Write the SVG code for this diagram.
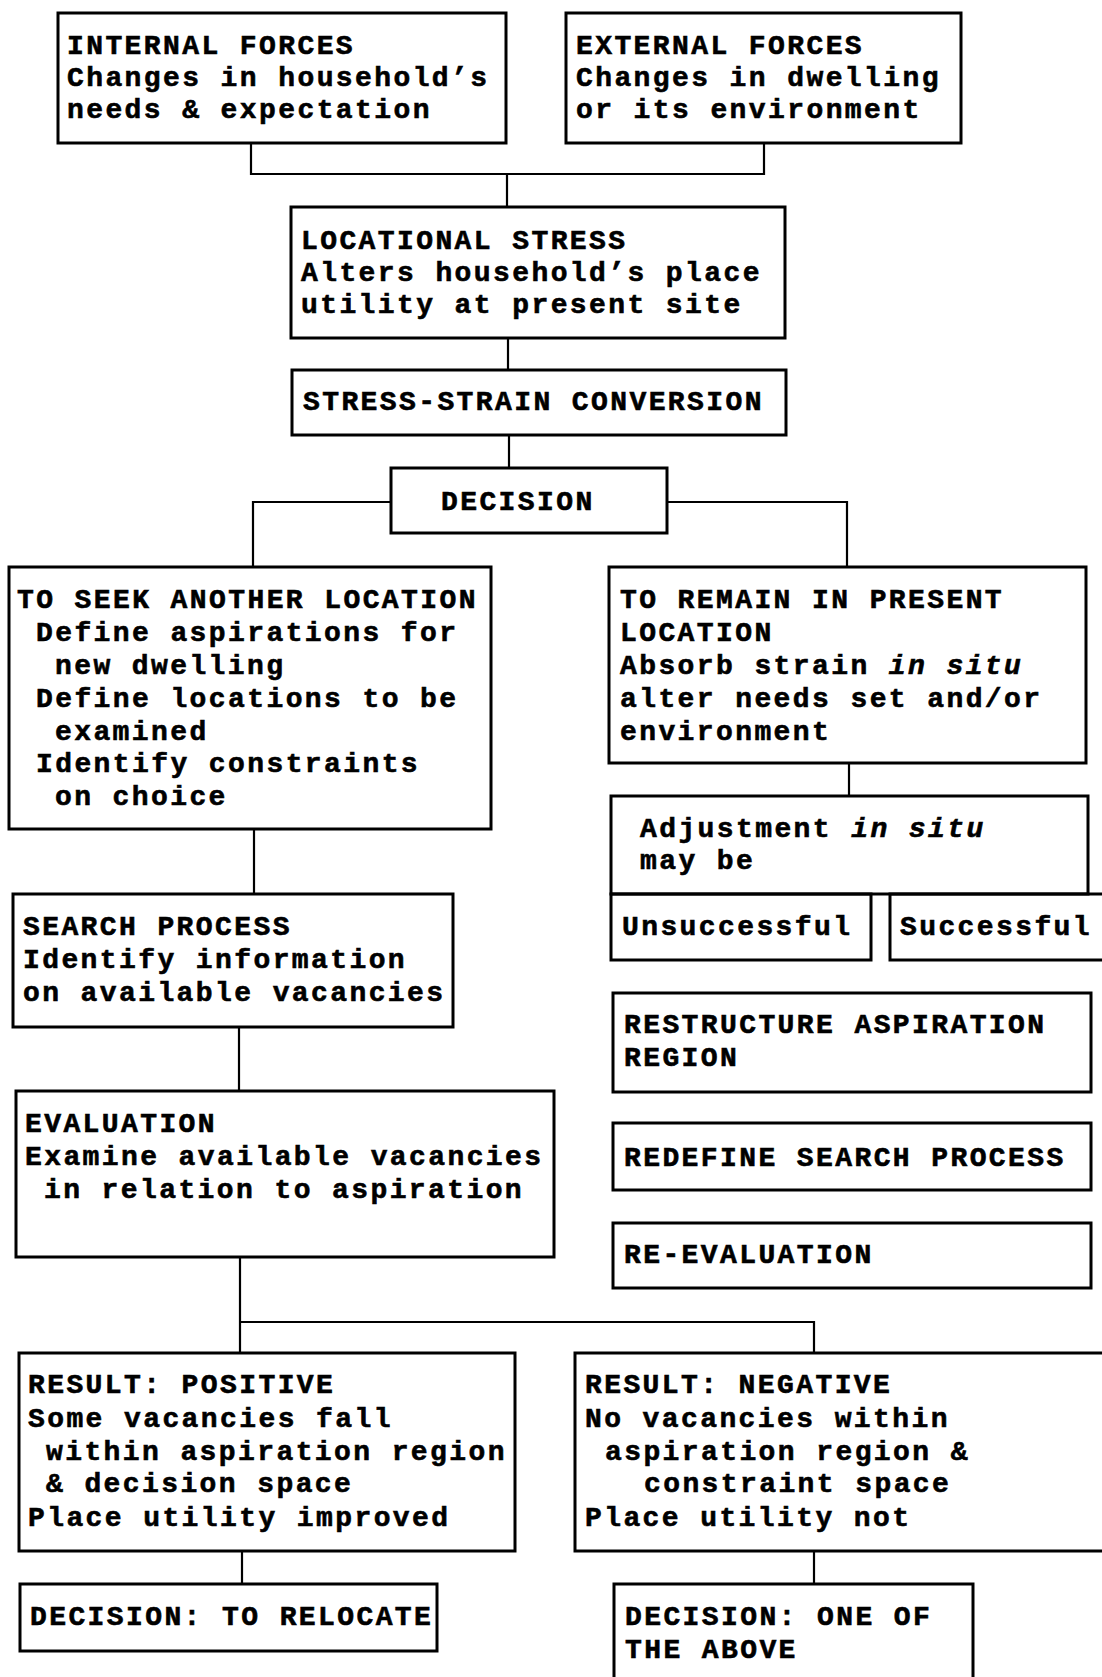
<svg xmlns="http://www.w3.org/2000/svg" width="1102" height="1677" viewBox="0 0 1102 1677">
  <style>
    .box { fill: none; stroke: #000; stroke-width: 3; }
    .wire { fill: none; stroke: #000; stroke-width: 2.2; }
    text { font-family: "Liberation Mono", "Courier New", monospace; font-weight: bold; font-size: 28px; letter-spacing: 2.4px; fill: #000; stroke: #000; stroke-width: 0.6px; }
    .it { font-style: italic; }
  </style>
  <rect x="0" y="0" width="1102" height="1677" fill="#fff"/>

  <!-- connectors -->
  <g id="connectors">
    <path class="wire" d="M251 143 V174 H764 V143 M507 174 V207"/>
    <path class="wire" d="M508 338 V370"/>
    <path class="wire" d="M509 435 V468"/>
    <path class="wire" d="M391 502 H253 V567 M667 502 H847 V567"/>
    <path class="wire" d="M849 763 V796"/>
    <path class="wire" d="M254 829 V894"/>
    <path class="wire" d="M239 1027 V1091"/>
    <path class="wire" d="M240 1257 V1353 M240 1322 H814 V1353"/>
    <path class="wire" d="M242 1551 V1584"/>
    <path class="wire" d="M814 1551 V1584"/>
  </g>

  <g id="internal-forces">
    <rect class="box" x="58" y="13" width="448" height="130"/>
    <text x="67" y="54">INTERNAL FORCES</text>
    <text x="67" y="86">Changes in household’s</text>
    <text x="67" y="118">needs &amp; expectation</text>
  </g>

  <g id="external-forces">
    <rect class="box" x="566" y="13" width="395" height="130"/>
    <text x="576" y="54">EXTERNAL FORCES</text>
    <text x="576" y="86">Changes in dwelling</text>
    <text x="576" y="118">or its environment</text>
  </g>

  <g id="locational-stress">
    <rect class="box" x="291" y="207" width="494" height="131"/>
    <text x="301" y="249">LOCATIONAL STRESS</text>
    <text x="301" y="281">Alters household’s place</text>
    <text x="301" y="313">utility at present site</text>
  </g>

  <g id="stress-strain">
    <rect class="box" x="292" y="370" width="494" height="65"/>
    <text x="303" y="410">STRESS-STRAIN CONVERSION</text>
  </g>

  <g id="decision">
    <rect class="box" x="391" y="468" width="276" height="65"/>
    <text x="441" y="510">DECISION</text>
  </g>

  <g id="seek-location">
    <rect class="box" x="9" y="567" width="482" height="262"/>
    <text x="17" y="608">TO SEEK ANOTHER LOCATION</text>
    <text x="36" y="641">Define aspirations for</text>
    <text x="55" y="674">new dwelling</text>
    <text x="36" y="707">Define locations to be</text>
    <text x="55" y="740">examined</text>
    <text x="36" y="772">Identify constraints</text>
    <text x="55" y="805">on choice</text>
  </g>

  <g id="remain-location">
    <rect class="box" x="609" y="567" width="477" height="196"/>
    <text x="620" y="608">TO REMAIN IN PRESENT</text>
    <text x="620" y="641">LOCATION</text>
    <text x="620" y="674">Absorb strain <tspan class="it">in situ</tspan></text>
    <text x="620" y="707">alter needs set and/or</text>
    <text x="620" y="740">environment</text>
  </g>

  <g id="adjustment">
    <rect class="box" x="611" y="796" width="477" height="98"/>
    <text x="640" y="837">Adjustment <tspan class="it">in situ</tspan></text>
    <text x="640" y="869">may be</text>
  </g>

  <g id="unsuccessful">
    <rect class="box" x="611" y="894" width="260" height="66"/>
    <text x="622" y="935">Unsuccessful</text>
  </g>

  <g id="successful">
    <rect class="box" x="890" y="894" width="230" height="66"/>
    <text x="900" y="935">Successful</text>
  </g>

  <g id="search-process">
    <rect class="box" x="13" y="894" width="440" height="133"/>
    <text x="23" y="935">SEARCH PROCESS</text>
    <text x="23" y="968">Identify information</text>
    <text x="23" y="1001">on available vacancies</text>
  </g>

  <g id="restructure">
    <rect class="box" x="613" y="993" width="478" height="99"/>
    <text x="624" y="1033">RESTRUCTURE ASPIRATION</text>
    <text x="624" y="1066">REGION</text>
  </g>

  <g id="redefine">
    <rect class="box" x="613" y="1123" width="478" height="67"/>
    <text x="624" y="1166">REDEFINE SEARCH PROCESS</text>
  </g>

  <g id="re-evaluation">
    <rect class="box" x="613" y="1223" width="478" height="65"/>
    <text x="624" y="1263">RE-EVALUATION</text>
  </g>

  <g id="evaluation">
    <rect class="box" x="16" y="1091" width="538" height="166"/>
    <text x="25" y="1132">EVALUATION</text>
    <text x="25" y="1165">Examine available vacancies</text>
    <text x="44" y="1198">in relation to aspiration</text>
  </g>

  <g id="result-positive">
    <rect class="box" x="19" y="1353" width="496" height="198"/>
    <text x="28" y="1393">RESULT: POSITIVE</text>
    <text x="28" y="1427">Some vacancies fall</text>
    <text x="46" y="1460">within aspiration region</text>
    <text x="46" y="1492">&amp; decision space</text>
    <text x="28" y="1526">Place utility improved</text>
  </g>

  <g id="result-negative">
    <rect class="box" x="575" y="1353" width="540" height="198"/>
    <text x="585" y="1393">RESULT: NEGATIVE</text>
    <text x="585" y="1427">No vacancies within</text>
    <text x="605" y="1460">aspiration region &amp;</text>
    <text x="644" y="1492">constraint space</text>
    <text x="585" y="1526">Place utility not</text>
  </g>

  <g id="decision-relocate">
    <rect class="box" x="20" y="1584" width="417" height="67"/>
    <text x="30" y="1625">DECISION: TO RELOCATE</text>
  </g>

  <g id="decision-one-of">
    <rect class="box" x="614" y="1584" width="359" height="110"/>
    <text x="625" y="1625">DECISION: ONE OF</text>
    <text x="625" y="1658">THE ABOVE</text>
  </g>
</svg>
